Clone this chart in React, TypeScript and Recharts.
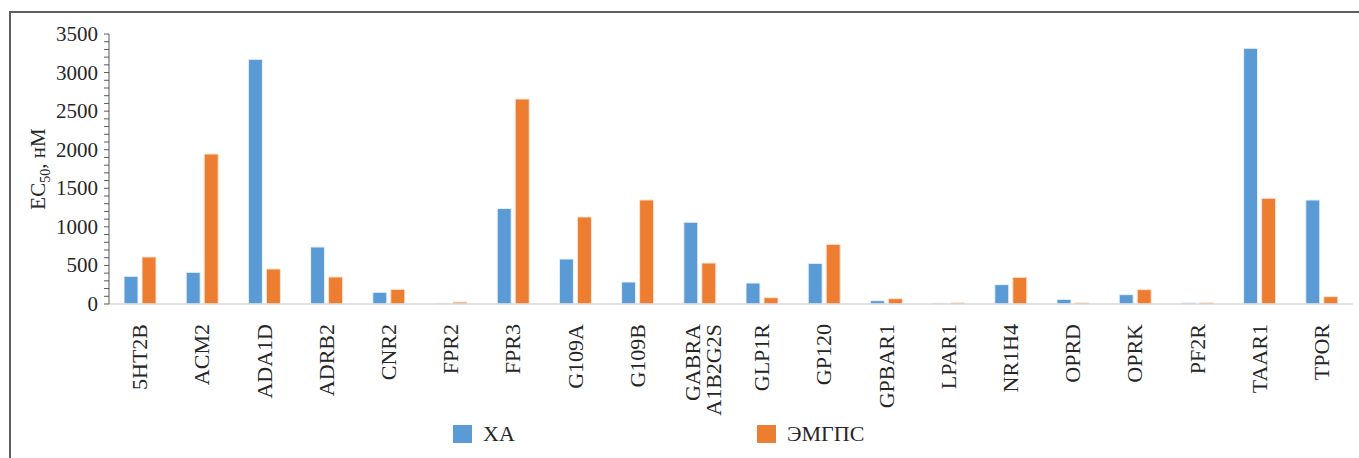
import { Bar, BarChart, Label, Legend, XAxis, YAxis } from "recharts";

const receptors = [
  "5HT2B", "ACM2", "ADA1D", "ADRB2", "CNR2", "FPR2", "FPR3", "G109A", "G109B", "GABRA A1B2G2S",
  "GLP1R", "GP120", "GPBAR1", "LPAR1", "NR1H4", "OPRD", "OPRK", "PF2R", "TAAR1", "TPOR",
];
const xaValues = [359, 411, 3172, 739, 152, 10, 1239, 583, 285, 1060, 272, 527, 43, 12, 251, 60, 121, 15, 3315, 1348];
const emgpsValues = [609, 1944, 454, 350, 190, 25, 2657, 1128, 1348, 531, 82, 773, 69, 15, 346, 15, 186, 18, 1370, 95];
const yTicks = Array.from({ length: 36 }, (_, i) => i * 100);

const data = receptors.map((name, i) => ({ name, xa: xaValues[i], emgps: emgpsValues[i] }));

const FONT = "'Liberation Serif', 'Times New Roman', serif";
const INK = "#262626";
const BLUE = "#5B9BD5";
const ORANGE = "#ED7D31";

function YTick({ x, y, payload }: any) {
  if (payload.value % 500 !== 0) return null;
  return (
    <text x={x} y={y} dy={7} textAnchor="end" fontFamily={FONT} fontSize={21} fill={INK}>
      {payload.value}
    </text>
  );
}

function XTick({ x, y, payload }: any) {
  const lines = String(payload.value).split(" ");
  const offsets = lines.length > 1 ? [-7, 14] : [0];
  return (
    <g>
      {lines.map((line, i) => (
        <text
          key={line}
          x={x + offsets[i]}
          y={y + 12}
          dy={7}
          textAnchor="end"
          transform={`rotate(-90, ${x + offsets[i]}, ${y + 12})`}
          fontFamily={FONT}
          fontSize={22}
          fill={INK}
        >
          {line}
        </text>
      ))}
    </g>
  );
}

function AxisTitle({ viewBox }: any) {
  const cx = viewBox.x + 4;
  const cy = viewBox.y + viewBox.height / 2;
  return (
    <text
      x={cx}
      y={cy}
      dy={7}
      textAnchor="middle"
      transform={`rotate(-90, ${cx}, ${cy})`}
      fontFamily={FONT}
      fontSize={21}
      fill={INK}
    >
      EC
      <tspan fontSize={14} dy={5}>50</tspan>
      <tspan dy={-5}>, нМ</tspan>
    </text>
  );
}

function LegendBox() {
  const item = (color: string, text: string, width: number) => (
    <div style={{ display: "flex", alignItems: "center", width }}>
      <div style={{ width: 19, height: 18, background: color, marginRight: 11 }} />
      <span style={{ fontFamily: FONT, fontSize: 22, color: INK, lineHeight: "18px" }}>{text}</span>
    </div>
  );
  return (
    <div style={{ display: "flex" }}>
      {item(BLUE, "ХА", 304)}
      {item(ORANGE, "ЭМГПС", 140)}
    </div>
  );
}

export default function App() {
  return (
    <div style={{ position: "absolute", left: 0, top: 0, width: 1359, height: 458, overflow: "hidden", background: "#fff" }}>
      <div
        style={{
          position: "absolute",
          left: 9,
          top: 11,
          width: 1400,
          height: 500,
          borderLeft: "2px solid #5f5f5f",
          borderTop: "2px solid #5f5f5f",
        }}
      />
      <div style={{ position: "absolute", left: 0, top: 0 }}>
        <BarChart
          width={1359}
          height={458}
          data={data}
          margin={{ top: 34, right: 6, bottom: 0, left: 34 }}
          barSize={14}
          barGap={4}
        >
          <XAxis
            dataKey="name"
            height={154}
            interval={0}
            tickLine={false}
            axisLine={{ stroke: "#d9d9d9", strokeWidth: 1.5 }}
            tick={<XTick />}
          />
          <YAxis
            width={75}
            domain={[0, 3500]}
            ticks={yTicks}
            interval={0}
            tickSize={5}
            tickMargin={6}
            axisLine={{ stroke: "#595959" }}
            tickLine={{ stroke: "#595959" }}
            tick={<YTick />}
          >
            <Label content={<AxisTitle />} />
          </YAxis>
          <Legend
            layout="vertical"
            align="center"
            verticalAlign="middle"
            content={<LegendBox />}
            wrapperStyle={{ left: 453, top: 425, width: "auto" }}
          />
          <Bar dataKey="xa" name="ХА" fill={BLUE} stroke="#eaf2fb" strokeWidth={1} isAnimationActive={false} />
          <Bar dataKey="emgps" name="ЭМГПС" fill={ORANGE} stroke="#fbe3d3" strokeWidth={1} isAnimationActive={false} />
        </BarChart>
      </div>
    </div>
  );
}
